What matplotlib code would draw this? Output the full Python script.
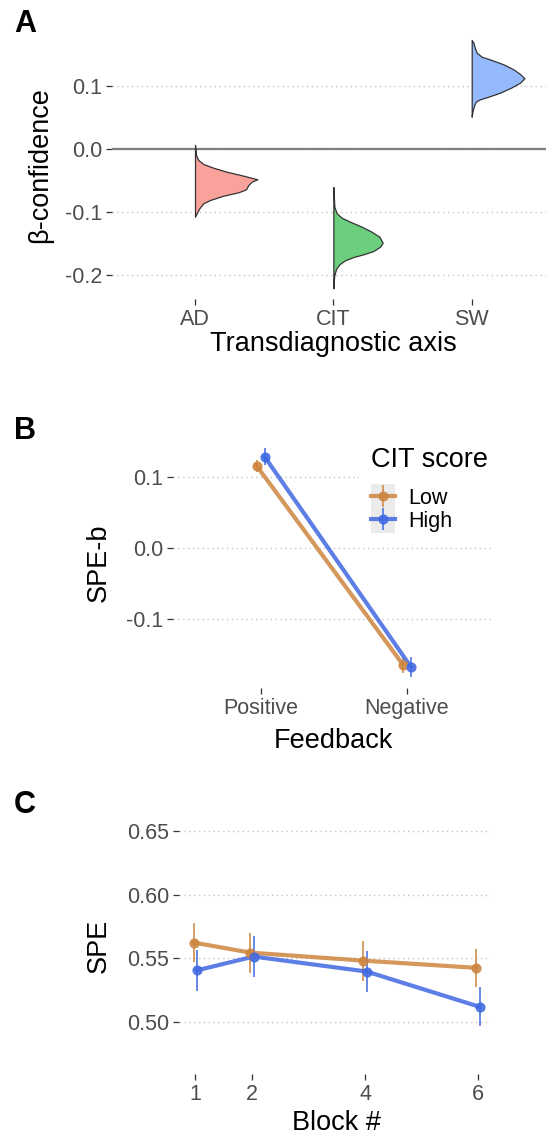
import matplotlib
matplotlib.use('Agg')
import matplotlib.pyplot as plt
from matplotlib.lines import Line2D
from matplotlib.legend_handler import HandlerTuple
from matplotlib.patches import Rectangle

# --- Data ---

# Panel A: half-violin outlines (beta value, density in arbitrary units)
axes_a = ['AD', 'CIT', 'SW']
ad_beta = [0.0063, -0.0095, -0.0174, -0.0237, -0.0296, -0.0359, -0.0422, -0.0479, -0.0517,
           -0.0570, -0.0638, -0.0685, -0.0739, -0.0807, -0.0859, -0.0938, -0.1017, -0.1071]
ad_dens = [0, 1, 3.3, 8.3, 18.3, 31.7, 48.3, 62.3, 56.7, 53.3, 51, 43.3, 28.3, 15, 8.3, 4.3, 1.7, 0]
cit_beta = [-0.060, -0.0913, -0.1017, -0.1087, -0.1150, -0.1229, -0.1309, -0.1388, -0.1483, -0.1546,
            -0.1614, -0.1666, -0.1709, -0.1761, -0.1824, -0.1899, -0.1994, -0.2100, -0.2204]
cit_dens = [0, 1, 3.3, 8.3, 16.7, 28.3, 38.3, 46, 49.3, 46.7, 40, 30, 20, 11.7, 6, 2.7, 1, 0.3, 0]
sw_beta = [0.1725, 0.1682, 0.1593, 0.1524, 0.1460, 0.1408, 0.1340, 0.1261, 0.1187, 0.1119,
           0.1049, 0.0976, 0.0891, 0.0828, 0.0786, 0.0748, 0.0669, 0.0590, 0.0511]
sw_dens = [0, 1.7, 3.3, 5, 10, 20, 31.7, 41.7, 48.3, 52.7, 48.3, 40, 28.3, 16.7, 8.3, 4, 2, 0.7, 0]

# Panel B: SPE-b by feedback and CIT score group
feedback = ['Positive', 'Negative']
speb_low = [0.115, -0.165]
speb_low_se = [0.008, 0.011]
speb_high = [0.128, -0.168]
speb_high_se = [0.012, 0.014]

# Panel C: SPE by block
blocks = [1, 2, 4, 6]
spe_low = [0.5623, 0.5544, 0.5481, 0.5424]
spe_low_se = [0.0152, 0.0158, 0.0158, 0.0148]
spe_high = [0.5405, 0.5513, 0.5395, 0.5117]
spe_high_se = [0.0163, 0.0160, 0.0160, 0.0153]

# --- Style ---
plt.rcParams['font.family'] = ['Liberation Sans', 'DejaVu Sans']
W, H = 546, 1136
fig = plt.figure(figsize=(W / 100, H / 100), dpi=100)

TICK_COL = '#4D4D4D'
GRID_COL = '#C4C4C4'
LOW_COL = '#CD853F'
HIGH_COL = '#4169E1'
TICK_FS = 15.5
TITLE_FS = 19.5


def axes_px(left, top, right, bottom):
    return fig.add_axes([left / W, 1 - bottom / H, (right - left) / W, (bottom - top) / H])


def minimal(ax):
    for s in ax.spines.values():
        s.set_visible(False)
    ax.tick_params(axis='both', length=4, width=0.9, color='#333333',
                   labelcolor=TICK_COL, labelsize=TICK_FS, pad=3)
    ax.grid(axis='y', color=GRID_COL, linestyle=(0, (1, 2.5)), linewidth=1)
    ax.set_axisbelow(True)


def px_text(x, y, s, **kw):
    kw.setdefault('ha', 'center')
    fig.text(x / W, 1 - y / H, s, va='center', **kw)


# --- Panel A ---
axA = axes_px(112, 31, 546, 299)
minimal(axA)
axA.set_xlim(0.4, 3.537)
axA.set_ylim(-0.2373, 0.1867)
axA.set_yticks([-0.2, -0.1, 0.0, 0.1])
axA.set_yticklabels(['-0.2', '-0.1', '0.0', '0.1'])
axA.set_xticks([1, 2, 3])
axA.set_xticklabels(axes_a)
axA.axhline(0, color='#7F7F7F', linewidth=1.6, zorder=1)

dens_scale = 1 / 138.3
violins = [(ad_beta, ad_dens, '#F9A29B'), (cit_beta, cit_dens, '#6CCF7D'), (sw_beta, sw_dens, '#94B9FC')]
for i, (beta, dens, col) in enumerate(violins):
    pos = i + 1
    right = [pos + d * dens_scale for d in dens]
    axA.fill_betweenx(beta, pos, right, facecolor=col, edgecolor='#333333', linewidth=0.9, zorder=3)

px_text(25, 24, 'A', fontsize=22, fontweight='bold')
px_text(40, 165, 'β-confidence', fontsize=TITLE_FS, rotation=90)
px_text(333, 344, 'Transdiagnostic axis', fontsize=TITLE_FS)

# --- Panel B ---
axB = axes_px(173, 438, 491, 688)
minimal(axB)
axB.set_xlim(0.4, 2.574)
axB.set_ylim(-0.1976, 0.1545)
axB.set_yticks([-0.1, 0.0, 0.1])
axB.set_yticklabels(['-0.1', '0.0', '0.1'])
axB.set_xticks([1, 2])
axB.set_xticklabels(feedback)

dodge = 0.027
xpos = [1, 2]
for vals, se, col, off in [(speb_low, speb_low_se, LOW_COL, -dodge), (speb_high, speb_high_se, HIGH_COL, dodge)]:
    xs = [x + off for x in xpos]
    axB.plot(xs, vals, color=col, linewidth=3, alpha=0.85, zorder=3)
    axB.errorbar(xs, vals, yerr=se, fmt='o', color=col, markersize=6.3, elinewidth=1.3,
                 alpha=0.85, zorder=3, capsize=0)

# legend: white box cutting the grid line, grey key background
axB.add_patch(Rectangle((359 / W, 1 - 540 / H), (W - 359) / W, 100 / H, transform=fig.transFigure,
                        facecolor='white', edgecolor='none', zorder=4))
axB.add_patch(Rectangle((371 / W, 1 - 533 / H), 24 / W, 49 / H, transform=fig.transFigure,
                        facecolor='#EBEBEB', edgecolor='none', zorder=4.5))
handles = []
for col in [LOW_COL, HIGH_COL]:
    h1 = Line2D([0], [0], color=col, linewidth=3, alpha=0.85, marker='o', markersize=6.3)
    h2 = Line2D([0], [0], color=col, marker='|', markersize=16, markeredgewidth=1.3,
                linestyle='None', alpha=0.85)
    handles.append((h1, h2))
leg = axB.legend(handles, ['Low', 'High'], handler_map={tuple: HandlerTuple(ndivide=1)},
                 loc='upper left', bbox_to_anchor=(371 / W, 1 - 488 / H),
                 bbox_transform=fig.transFigure, frameon=False, fontsize=TICK_FS,
                 handlelength=1.12, handletextpad=0.62, labelspacing=0.08, borderpad=0,
                 borderaxespad=0)
leg.set_zorder(5)
px_text(371, 460, 'CIT score', fontsize=TITLE_FS, ha='left')

px_text(25.5, 431, 'B', fontsize=22, fontweight='bold')
px_text(99, 563, 'SPE-b', fontsize=TITLE_FS, rotation=90)
px_text(333, 741, 'Feedback', fontsize=TITLE_FS)

# --- Panel C ---
axC = axes_px(179, 824, 491, 1074)
minimal(axC)
axC.set_xlim(0.708, 6.23)
axC.set_ylim(0.4588, 0.6557)
axC.set_yticks([0.50, 0.55, 0.60, 0.65])
axC.set_yticklabels(['0.50', '0.55', '0.60', '0.65'])
axC.set_xticks(blocks)
axC.set_xticklabels([str(b) for b in blocks])

dodge_c = 0.03
for vals, se, col, off in [(spe_low, spe_low_se, LOW_COL, -dodge_c), (spe_high, spe_high_se, HIGH_COL, dodge_c)]:
    xs = [b + off for b in blocks]
    axC.plot(xs, vals, color=col, linewidth=3, alpha=0.85, zorder=3)
    axC.errorbar(xs, vals, yerr=se, fmt='o', color=col, markersize=6.3, elinewidth=1.3,
                 alpha=0.85, zorder=3, capsize=0)

px_text(24.5, 805, 'C', fontsize=22, fontweight='bold')
px_text(99, 946, 'SPE', fontsize=TITLE_FS, rotation=90)
px_text(336, 1123, 'Block #', fontsize=TITLE_FS)

fig.savefig('out.png', dpi=100)
